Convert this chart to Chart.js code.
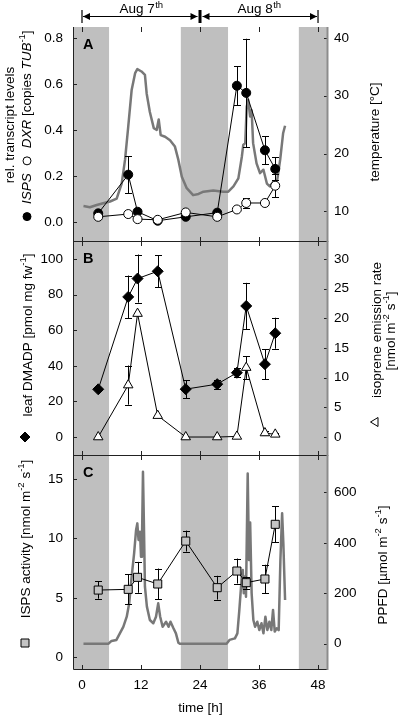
<!DOCTYPE html>
<html>
<head>
<meta charset="utf-8">
<title>Isoprene diurnal course</title>
<script src="https://cdn.jsdelivr.net/npm/chart.js@4.4.1/dist/chart.umd.min.js"></script>
<style>
  body { margin: 0; background: #fff; }
  #wrap { position: relative; width: 400px; height: 717px; }
  #wrap canvas { position: absolute; left: 0; }
</style>
</head>
<body>
<div id="wrap">
  <canvas id="panelA" width="400" height="260" style="top:0px"></canvas>
  <canvas id="panelB" width="400" height="252" style="top:222px"></canvas>
  <canvas id="panelC" width="400" height="281" style="top:436px"></canvas>
</div>
<script>
// sampling times [h] shared by all three panels
const sampleTimes = [3.3, 9.4, 11.3, 15.4, 21.1, 27.5, 31.5, 33.4, 37.2, 39.3];

// A: transcript levels
const ispsTranscript    = [0.039, 0.207, 0.046, 0.007, 0.024, 0.042, 0.593, 0.562, 0.313, 0.232];
const ispsTranscriptErr = [0, 0.08, 0, 0, 0, 0, 0.085, 0.235, 0.06, 0.05];
const dxrTranscript     = [0.024, 0.036, 0.014, 0.011, 0.043, 0.024, 0.056, 0.084, 0.084, 0.159];
const dxrTranscriptErr  = [0, 0, 0, 0, 0, 0, 0, 0.02, 0, 0.05];

// A: air temperature trace
const tempTimes  = [0.3, 1.6, 3.0, 4.3, 5.7, 7.05, 8.07, 8.75, 9.4, 10.1, 10.8, 11.25, 12.1, 12.8, 13.15, 13.8, 14.6, 15.2, 15.6, 16.0, 16.9, 17.9, 18.9, 19.6, 20.3, 21.3, 22.6, 23.7, 24.7, 26.7, 28.7, 29.75, 30.8, 31.8, 32.5, 32.8, 33.2, 33.5, 33.8, 34.2, 34.5, 34.8, 35.5, 36.2, 36.9, 37.6, 38.2, 38.9, 39.7, 40.3, 40.9, 41.3];
const tempValues = [10.9, 10.7, 11.1, 11.4, 11.7, 12.2, 14.8, 18.9, 24.6, 31.0, 33.9, 34.6, 34.2, 33.6, 30.4, 27.2, 24.4, 24.1, 25.9, 23.2, 22.9, 22.3, 21.2, 18.9, 16.0, 14.0, 12.8, 13.0, 13.4, 13.6, 13.4, 13.4, 14.3, 15.7, 19.4, 21.5, 21.8, 28.1, 29.3, 26.4, 27.5, 21.8, 18.3, 16.6, 17.2, 14.8, 14.3, 15.1, 15.4, 18.9, 23.5, 24.8];

// B: leaf DMADP and isoprene emission
const dmadp         = [26.8, 78.7, 89.0, 93.1, 26.9, 29.7, 36.1, 73.6, 40.9, 58.3];
const dmadpErr      = [0, 12, 13.5, 9, 5, 2.5, 2.5, 13, 8.5, 8.7];
const isoprene      = [0, 8.75, 20.8, 3.6, 0, 0, 0.1, 11.7, 0.67, 0.45];
const isopreneErr   = [0, 3.3, 0, 0, 0, 0, 0, 1.9, 0.3, 0.3];

// C: ISPS activity and PPFD trace
const ispsActivity    = [5.66, 5.72, 6.73, 6.17, 9.78, 5.86, 7.26, 6.28, 6.59, 11.19];
const ispsActivityErr = [0.73, 1.27, 1.3, 1.3, 0.88, 1.0, 1.05, 0.5, 1.2, 1.5];
const ppfdTimes  = [0.3, 5.4, 6.0, 7.0, 7.7, 8.4, 9.1, 9.6, 10.1, 10.6, 11.0, 11.25, 11.5, 11.8, 12.0, 12.2, 12.4, 12.6, 12.8, 13.2, 13.8, 14.5, 15.05, 15.5, 15.9, 16.4, 17.1, 17.6, 18.0, 18.6, 19.1, 19.6, 19.9, 29.4, 30.0, 31.1, 31.6, 32.0, 32.5, 32.7, 32.9, 33.15, 33.35, 33.7, 33.96, 34.2, 34.5, 34.85, 35.2, 35.65, 36.06, 36.5, 36.9, 37.3, 37.7, 38.1, 38.5, 38.85, 39.2, 39.6, 40.0, 40.35, 40.7, 40.95, 41.3];
const ppfdValues = [0, 0, 11, 15, 41, 67, 107, 160, 266, 358, 451, 477, 411, 444, 345, 411, 682, 464, 226, 147, 94, 81, 107, 160, 107, 67, 87, 67, 87, 61, 41, 4, 0, 0, 15, 21, 41, 134, 266, 292, 200, 266, 186, 675, 332, 480, 200, 94, 67, 87, 54, 81, 41, 107, 54, 87, 54, 134, 48, 61, 54, 332, 517, 398, 173];

// night periods (grey) and day annotation
const nightStart = [-5, 20.1, 44.1];
const nightEnd   = [5.5, 29.7, 55];
const dayBounds  = [0, 24, 48];
const dayLabels  = ['Aug 7', 'Aug 8'];

// tick values
const timeTicks       = [0, 12, 24, 36, 48];
const transcriptTicks = [0, 0.2, 0.4, 0.6, 0.8];
const tempTicks       = [10, 20, 30, 40];
const dmadpTicks      = [0, 20, 40, 60, 80, 100];
const isopreneTicks   = [0, 5, 10, 15, 20, 25, 30];
const activityTicks   = [0, 5, 10, 15];
const ppfdTicks       = [0, 200, 400, 600];

const FONT = '"Liberation Sans", Arial, Helvetica, sans-serif';
const SIZE = 13.5;
const xMin = -1.83, xMax = 50.03;

const pts = (xs, ys) => xs.map((v, i) => ({ x: v, y: ys[i] }));

// error bars drawn right before the dataset they belong to
const errorBars = {
  id: 'errorBars',
  beforeDatasetDraw(chart, args) {
    const ds = chart.data.datasets[args.index];
    if (!ds.errors) return;
    const ctx = chart.ctx;
    const yScale = chart.scales[ds.yAxisID];
    ctx.save();
    ctx.strokeStyle = '#000';
    ctx.lineWidth = 1;
    args.meta.data.forEach((pt, i) => {
      const e = ds.errors[i];
      if (!e) return;
      const v = ds.data[i].y;
      const top = yScale.getPixelForValue(v + e);
      const bot = yScale.getPixelForValue(v - e);
      const x = Math.round(pt.x) + 0.5;
      ctx.beginPath();
      ctx.moveTo(x, top); ctx.lineTo(x, bot);
      ctx.moveTo(x - 3.5, Math.round(top) + 0.5); ctx.lineTo(x + 3.5, Math.round(top) + 0.5);
      ctx.moveTo(x - 3.5, Math.round(bot) + 0.5); ctx.lineTo(x + 3.5, Math.round(bot) + 0.5);
      ctx.stroke();
    });
    ctx.restore();
  }
};

// grey night bands, frame lines and inward ticks
const frame = {
  id: 'frame',
  beforeDatasetsDraw(chart) {
    const { ctx, chartArea: a, scales: { x } } = chart;
    ctx.save();
    ctx.fillStyle = '#bfbfbf';
    for (let i = 0; i < nightStart.length; i++) {
      const x0 = Math.max(a.left, x.getPixelForValue(nightStart[i]));
      const x1 = Math.min(a.right, x.getPixelForValue(nightEnd[i]));
      if (x1 > x0) ctx.fillRect(x0, a.top, x1 - x0, a.bottom - a.top);
    }
    ctx.restore();
  },
  afterDatasetsDraw(chart, args, opts) {
    const { ctx, chartArea: a, scales: { x, yL, yR } } = chart;
    const L = Math.round(a.left) + 0.5, R = Math.round(a.right) - 0.5;
    const T = Math.round(a.top) + 0.5, B = Math.round(a.bottom) + 0.5;
    ctx.save();
    ctx.strokeStyle = '#222';
    ctx.lineWidth = 1;
    ctx.beginPath();
    ctx.moveTo(L, a.top); ctx.lineTo(L, B);
    ctx.moveTo(L, B); ctx.lineTo(a.right, B);
    if (opts.top) { ctx.moveTo(L, T); ctx.lineTo(a.right, T); }
    timeTicks.forEach(t => {
      const px = Math.round(x.getPixelForValue(t)) + 0.5;
      ctx.moveTo(px, a.top); ctx.lineTo(px, a.top + 5);
      ctx.moveTo(px, a.bottom - 4); ctx.lineTo(px, a.bottom + 1);
    });
    yL.ticks.forEach(t => {
      const py = Math.round(yL.getPixelForValue(t.value)) + 0.5;
      ctx.moveTo(a.left, py); ctx.lineTo(a.left + 4, py);
    });
    yR.ticks.forEach(t => {
      const py = Math.round(yR.getPixelForValue(t.value)) + 0.5;
      ctx.moveTo(a.right - 4, py); ctx.lineTo(a.right, py);
    });
    ctx.stroke();
    ctx.strokeStyle = '#8c8c8c';
    ctx.lineWidth = 2;
    ctx.beginPath();
    ctx.moveTo(R, a.top); ctx.lineTo(R, a.bottom + 1);
    ctx.stroke();
    ctx.restore();
  }
};

// --- rich rotated text for the axis titles ---
function partFont(p) {
  return (p.it ? 'italic ' : '') + (p.sup ? 9.5 : SIZE) + 'px ' + FONT;
}
function partWidth(ctx, p) {
  if (p.m) return p.w;
  ctx.font = partFont(p);
  return ctx.measureText(p.t).width;
}
function drawMarker(ctx, x, y, kind) {
  ctx.save();
  ctx.lineWidth = 1;
  ctx.strokeStyle = '#000';
  ctx.beginPath();
  if (kind === 'dot' || kind === 'ring') {
    ctx.arc(x, y, 4, 0, Math.PI * 2);
    ctx.fillStyle = kind === 'dot' ? '#000' : '#fff';
  } else if (kind === 'diamond') {
    ctx.moveTo(x - 5, y); ctx.lineTo(x, y - 5); ctx.lineTo(x + 5, y); ctx.lineTo(x, y + 5);
    ctx.closePath();
    ctx.fillStyle = '#000';
  } else if (kind === 'tri') {
    ctx.moveTo(x, y - 4.5); ctx.lineTo(x + 4.5, y + 3); ctx.lineTo(x - 4.5, y + 3);
    ctx.closePath();
    ctx.fillStyle = '#fff';
  } else {
    ctx.rect(x - 4, y - 4, 8, 8);
    ctx.fillStyle = '#c4c4c4';
  }
  ctx.fill();
  ctx.stroke();
  ctx.restore();
}
function drawVertical(ctx, cx, cy, parts) {
  ctx.save();
  ctx.translate(cx, cy);
  ctx.rotate(-Math.PI / 2);
  const total = parts.reduce((s, p) => s + partWidth(ctx, p), 0);
  let x = -total / 2;
  ctx.textBaseline = 'middle';
  ctx.textAlign = 'left';
  ctx.fillStyle = '#000';
  parts.forEach(p => {
    const w = partWidth(ctx, p);
    if (p.m) {
      drawMarker(ctx, x + w / 2, 0, p.m);
    } else {
      ctx.font = partFont(p);
      ctx.fillText(p.t, x, p.sup ? -5 : 0);
    }
    x += w;
  });
  ctx.restore();
}
function drawLetter(ctx, letter, x, y) {
  ctx.save();
  ctx.font = 'bold 14.5px ' + FONT;
  ctx.fillStyle = '#000';
  ctx.textBaseline = 'alphabetic';
  ctx.fillText(letter, x, y);
  ctx.restore();
}

function drawDays(chart) {
  const { ctx, scales: { x } } = chart;
  const y = 16.5;
  const px = dayBounds.map(v => x.getPixelForValue(v));
  ctx.save();
  ctx.strokeStyle = '#000';
  ctx.fillStyle = '#000';
  ctx.lineWidth = 1.2;
  const head = (tip, dir) => {
    ctx.beginPath();
    ctx.moveTo(tip, y);
    ctx.lineTo(tip + dir * 7, y - 3.5);
    ctx.lineTo(tip + dir * 7, y + 3.5);
    ctx.closePath();
    ctx.fill();
  };
  for (let i = 0; i < dayLabels.length; i++) {
    const a = px[i] + (i > 0 ? 2.5 : 1);
    const b = px[i + 1] - (i + 1 < dayLabels.length ? 2.5 : 1);
    ctx.beginPath();
    ctx.moveTo(a, y); ctx.lineTo(b, y);
    ctx.stroke();
    head(a, 1);
    head(b, -1);
    // label with superscript
    ctx.font = SIZE + 'px ' + FONT;
    const w1 = ctx.measureText(dayLabels[i]).width;
    ctx.font = '9.5px ' + FONT;
    const w2 = ctx.measureText('th').width;
    const mid = (px[i] + px[i + 1]) / 2;
    const start = mid - (w1 + w2) / 2;
    ctx.font = SIZE + 'px ' + FONT;
    ctx.fillText(dayLabels[i], start, 12.5);
    ctx.font = '9.5px ' + FONT;
    ctx.fillText('th', start + w1 + 0.5, 7.5);
  }
  // end bars
  ctx.lineWidth = 1.2;
  ctx.beginPath();
  ctx.moveTo(px[0], 10); ctx.lineTo(px[0], 23);
  ctx.moveTo(px[2], 10); ctx.lineTo(px[2], 23);
  ctx.stroke();
  ctx.fillRect(px[1] - 1.5, 10, 3, 13);
  ctx.restore();
}

function yAxis(side, min, max, ticks, fmt) {
  return {
    type: 'linear',
    position: side,
    min: min,
    max: max,
    grid: { display: false, drawTicks: false },
    border: { display: false },
    ticks: {
      color: '#000',
      font: { family: FONT, size: SIZE },
      padding: side === 'left' ? 10 : 6,
      callback: fmt
    },
    afterBuildTicks: s => { s.ticks = ticks.map(v => ({ value: v })); },
    afterFit: s => { s.width = side === 'left' ? 73 : 72; }
  };
}

function xAxis(show) {
  return {
    type: 'linear',
    min: xMin,
    max: xMax,
    display: show,
    grid: { display: false, drawTicks: false },
    border: { display: false },
    ticks: { color: '#000', font: { family: FONT, size: SIZE }, padding: 8, maxRotation: 0, autoSkip: false },
    afterBuildTicks: s => { s.ticks = timeTicks.map(v => ({ value: v })); },
    afterFit: s => { s.height = show ? 48 : 0; },
    title: { display: show, text: 'time [h]', color: '#000', font: { family: FONT, size: SIZE }, padding: { top: 0, bottom: 1 } }
  };
}

function makePanel(id, opts) {
  return new Chart(document.getElementById(id), {
    type: 'line',
    data: { datasets: opts.datasets },
    options: {
      responsive: false,
      animation: false,
      events: [],
      layout: { padding: opts.padding },
      plugins: {
        legend: { display: false },
        tooltip: { enabled: false },
        frame: { top: opts.top }
      },
      scales: {
        x: xAxis(opts.showX),
        yL: yAxis('left', opts.left[0], opts.left[1], opts.left[2], opts.left[3]),
        yR: yAxis('right', opts.right[0], opts.right[1], opts.right[2], opts.right[3])
      }
    },
    plugins: [frame, errorBars, { id: 'labels', afterDraw: opts.labels }]
  });
}

const markerLine = { borderColor: '#000', borderWidth: 1, pointBorderColor: '#000', pointBorderWidth: 1, tension: 0 };
const traceLine = { borderColor: '#787878', borderWidth: 2.5, pointRadius: 0, tension: 0, borderJoinStyle: 'round' };

makePanel('panelA', {
  padding: { left: 0, right: 0, top: 27, bottom: 19 },
  top: false,
  showX: false,
  left: [-0.081, 0.848, transcriptTicks, v => v.toFixed(1)],
  right: [4.86, 41.9, tempTicks, v => v],
  datasets: [
    Object.assign({ data: pts(tempTimes, tempValues), yAxisID: 'yR', order: 3 }, traceLine),
    Object.assign({ data: pts(sampleTimes, ispsTranscript), errors: ispsTranscriptErr, yAxisID: 'yL', order: 2,
      pointStyle: 'circle', pointRadius: 4.5, pointBackgroundColor: '#000' }, markerLine),
    Object.assign({ data: pts(sampleTimes, dxrTranscript), errors: dxrTranscriptErr, yAxisID: 'yL', order: 1,
      pointStyle: 'circle', pointRadius: 4.5, pointBackgroundColor: '#fff' }, markerLine)
  ],
  labels(chart) {
    const ctx = chart.ctx;
    drawDays(chart);
    drawLetter(ctx, 'A', 83, 49);
    drawVertical(ctx, 10, 125, [{ t: 'rel. transcript levels' }]);
    drawVertical(ctx, 27, 126, [
      { m: 'dot', w: 10 }, { t: '  ' }, { t: 'ISPS', it: true }, { t: '  ' },
      { m: 'ring', w: 10 }, { t: '  ' }, { t: 'DXR', it: true }, { t: ' [copies ' },
      { t: 'TUB', it: true }, { t: '-1', sup: true }, { t: ']' }
    ]);
    drawVertical(ctx, 375, 132, [{ t: 'temperature [°C]' }]);
  }
});

makePanel('panelB', {
  padding: { left: 0, right: 0, top: 19, bottom: 19 },
  top: true,
  showX: false,
  left: [-10.1, 110.1, dmadpTicks, v => v],
  right: [-3.03, 33.03, isopreneTicks, v => v],
  datasets: [
    Object.assign({ data: pts(sampleTimes, dmadp), errors: dmadpErr, yAxisID: 'yL', order: 2,
      pointStyle: 'rectRot', pointRadius: 5.5, pointBackgroundColor: '#000' }, markerLine),
    Object.assign({ data: pts(sampleTimes, isoprene), errors: isopreneErr, yAxisID: 'yR', order: 1,
      pointStyle: 'triangle', pointRadius: 5.5, pointBackgroundColor: '#fff' }, markerLine)
  ],
  labels(chart) {
    const ctx = chart.ctx;
    drawLetter(ctx, 'B', 83, 41);
    drawVertical(ctx, 25, 215, [{ m: 'diamond', w: 10 }]);
    drawVertical(ctx, 28, 113, [{ t: 'leaf DMADP [pmol mg fw' }, { t: '-1', sup: true }, { t: ']' }]);
    drawVertical(ctx, 375, 200, [{ m: 'tri', w: 10 }]);
    drawVertical(ctx, 377, 108, [{ t: 'isoprene emission rate' }]);
    drawVertical(ctx, 391, 109, [{ t: '[nmol m' }, { t: '-2', sup: true }, { t: ' s' }, { t: '-1', sup: true }, { t: ']' }]);
  }
});

makePanel('panelC', {
  padding: { left: 0, right: 0, top: 19, bottom: 0 },
  top: true,
  showX: true,
  left: [-0.98, 17.02, activityTicks, v => v],
  right: [-100.3, 748, ppfdTicks, v => v],
  datasets: [
    Object.assign({ data: pts(ppfdTimes, ppfdValues), yAxisID: 'yR', order: 2 }, traceLine),
    Object.assign({ data: pts(sampleTimes, ispsActivity), errors: ispsActivityErr, yAxisID: 'yL', order: 1,
      pointStyle: 'rect', pointRadius: 5.7, pointBackgroundColor: '#c4c4c4' }, markerLine)
  ],
  labels(chart) {
    const ctx = chart.ctx;
    drawLetter(ctx, 'C', 83, 41);
    drawVertical(ctx, 25, 207, [{ m: 'square', w: 10 }]);
    drawVertical(ctx, 26, 103, [{ t: 'ISPS activity [nmol m' }, { t: '-2', sup: true }, { t: ' s' }, { t: '-1', sup: true }, { t: ']' }]);
    drawVertical(ctx, 383, 129, [{ t: 'PPFD [µmol m' }, { t: '-2', sup: true }, { t: ' s' }, { t: '-1', sup: true }, { t: ']' }]);
  }
});
</script>
</body>
</html>
